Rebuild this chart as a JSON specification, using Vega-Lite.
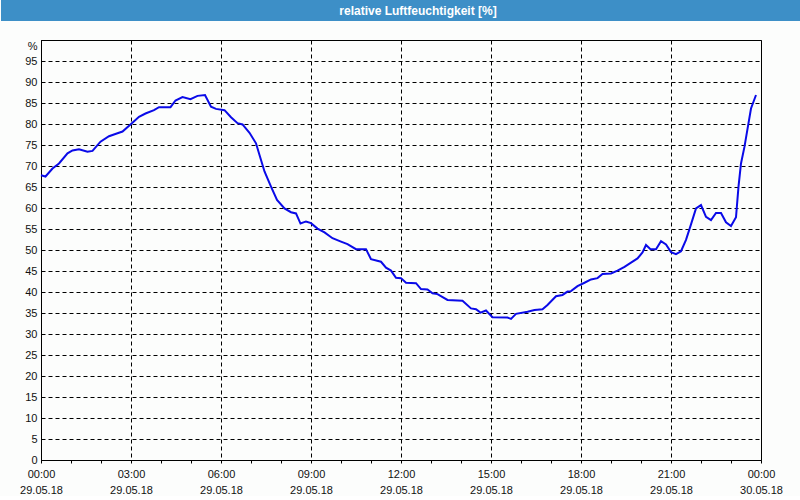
{
  "$schema": "https://vega.github.io/schema/vega-lite/v6.json",
  "padding": 0,
  "background": "#fcfdfc",
  "spacing": 19,
  "bounds": "flush",
  "center": true,
  "config": {
    "font": "Liberation Sans",
    "axis": {"labelFont": "Liberation Sans", "labelFontSize": 11, "labelColor": "#111111", "domainColor": "#000000", "tickColor": "#000000"},
    "style": {"guide-label": {"lineBreak": "\n"}}
  },
  "vconcat": [
    {
      "width": 800,
      "height": 21,
      "view": {"fill": "#3d8fc7", "stroke": null},
      "data": {"values": [{"title": "relative Luftfeuchtigkeit [%]"}]},
      "mark": {"type": "text", "color": "white", "font": "Liberation Sans", "fontWeight": "bold", "fontSize": 12, "dx": 17, "baseline": "middle"},
      "encoding": {"text": {"field": "title", "type": "nominal"}}
    },
    {
      "width": 720,
      "height": 420,
      "view": {"stroke": "#000000", "strokeWidth": 1},
      "data": {"values": [
        {"time": "2018-05-29T00:00:00Z", "rh": 67.8},
        {"time": "2018-05-29T00:09:00Z", "rh": 67.5},
        {"time": "2018-05-29T00:23:00Z", "rh": 69.4},
        {"time": "2018-05-29T00:36:00Z", "rh": 70.6},
        {"time": "2018-05-29T00:53:00Z", "rh": 73.0},
        {"time": "2018-05-29T01:03:00Z", "rh": 73.7},
        {"time": "2018-05-29T01:16:00Z", "rh": 74.0},
        {"time": "2018-05-29T01:33:00Z", "rh": 73.4},
        {"time": "2018-05-29T01:43:00Z", "rh": 73.6},
        {"time": "2018-05-29T01:59:00Z", "rh": 75.8},
        {"time": "2018-05-29T02:16:00Z", "rh": 77.1},
        {"time": "2018-05-29T02:33:00Z", "rh": 77.8},
        {"time": "2018-05-29T02:43:00Z", "rh": 78.2},
        {"time": "2018-05-29T02:59:00Z", "rh": 79.9},
        {"time": "2018-05-29T03:16:00Z", "rh": 81.7},
        {"time": "2018-05-29T03:29:00Z", "rh": 82.5},
        {"time": "2018-05-29T03:46:00Z", "rh": 83.3},
        {"time": "2018-05-29T03:56:00Z", "rh": 84.0},
        {"time": "2018-05-29T04:19:00Z", "rh": 84.0},
        {"time": "2018-05-29T04:29:00Z", "rh": 85.6},
        {"time": "2018-05-29T04:43:00Z", "rh": 86.4},
        {"time": "2018-05-29T04:59:00Z", "rh": 85.9},
        {"time": "2018-05-29T05:13:00Z", "rh": 86.7},
        {"time": "2018-05-29T05:28:00Z", "rh": 86.9},
        {"time": "2018-05-29T05:40:00Z", "rh": 84.1},
        {"time": "2018-05-29T05:50:00Z", "rh": 83.6},
        {"time": "2018-05-29T06:07:00Z", "rh": 83.3},
        {"time": "2018-05-29T06:20:00Z", "rh": 81.6},
        {"time": "2018-05-29T06:33:00Z", "rh": 80.2},
        {"time": "2018-05-29T06:43:00Z", "rh": 79.9},
        {"time": "2018-05-29T06:57:00Z", "rh": 77.9},
        {"time": "2018-05-29T07:10:00Z", "rh": 75.4},
        {"time": "2018-05-29T07:17:00Z", "rh": 72.6},
        {"time": "2018-05-29T07:27:00Z", "rh": 68.7},
        {"time": "2018-05-29T07:40:00Z", "rh": 65.1},
        {"time": "2018-05-29T07:52:00Z", "rh": 61.9},
        {"time": "2018-05-29T08:07:00Z", "rh": 59.9},
        {"time": "2018-05-29T08:20:00Z", "rh": 59.0},
        {"time": "2018-05-29T08:30:00Z", "rh": 58.7},
        {"time": "2018-05-29T08:39:00Z", "rh": 56.3},
        {"time": "2018-05-29T08:50:00Z", "rh": 56.8},
        {"time": "2018-05-29T09:00:00Z", "rh": 56.4},
        {"time": "2018-05-29T09:13:00Z", "rh": 55.1},
        {"time": "2018-05-29T09:27:00Z", "rh": 54.2},
        {"time": "2018-05-29T09:43:00Z", "rh": 52.8},
        {"time": "2018-05-29T10:00:00Z", "rh": 52.0},
        {"time": "2018-05-29T10:13:00Z", "rh": 51.4},
        {"time": "2018-05-29T10:30:00Z", "rh": 50.2},
        {"time": "2018-05-29T10:50:00Z", "rh": 50.2},
        {"time": "2018-05-29T11:00:00Z", "rh": 47.8},
        {"time": "2018-05-29T11:20:00Z", "rh": 47.2},
        {"time": "2018-05-29T11:30:00Z", "rh": 45.8},
        {"time": "2018-05-29T11:40:00Z", "rh": 45.1},
        {"time": "2018-05-29T11:50:00Z", "rh": 43.4},
        {"time": "2018-05-29T12:00:00Z", "rh": 43.3},
        {"time": "2018-05-29T12:10:00Z", "rh": 42.2},
        {"time": "2018-05-29T12:30:00Z", "rh": 42.1},
        {"time": "2018-05-29T12:40:00Z", "rh": 40.7},
        {"time": "2018-05-29T12:53:00Z", "rh": 40.6},
        {"time": "2018-05-29T13:03:00Z", "rh": 39.7},
        {"time": "2018-05-29T13:13:00Z", "rh": 39.5},
        {"time": "2018-05-29T13:33:00Z", "rh": 38.1},
        {"time": "2018-05-29T14:03:00Z", "rh": 37.9},
        {"time": "2018-05-29T14:20:00Z", "rh": 36.1},
        {"time": "2018-05-29T14:30:00Z", "rh": 35.9},
        {"time": "2018-05-29T14:39:00Z", "rh": 35.1},
        {"time": "2018-05-29T14:50:00Z", "rh": 35.6},
        {"time": "2018-05-29T15:03:00Z", "rh": 34.0},
        {"time": "2018-05-29T15:33:00Z", "rh": 33.9},
        {"time": "2018-05-29T15:40:00Z", "rh": 33.6},
        {"time": "2018-05-29T15:50:00Z", "rh": 34.8},
        {"time": "2018-05-29T16:13:00Z", "rh": 35.3},
        {"time": "2018-05-29T16:27:00Z", "rh": 35.7},
        {"time": "2018-05-29T16:43:00Z", "rh": 35.9},
        {"time": "2018-05-29T16:53:00Z", "rh": 36.9},
        {"time": "2018-05-29T17:10:00Z", "rh": 39.0},
        {"time": "2018-05-29T17:23:00Z", "rh": 39.3},
        {"time": "2018-05-29T17:33:00Z", "rh": 40.1},
        {"time": "2018-05-29T17:40:00Z", "rh": 40.2},
        {"time": "2018-05-29T17:53:00Z", "rh": 41.4},
        {"time": "2018-05-29T18:07:00Z", "rh": 42.2},
        {"time": "2018-05-29T18:20:00Z", "rh": 43.0},
        {"time": "2018-05-29T18:33:00Z", "rh": 43.3},
        {"time": "2018-05-29T18:43:00Z", "rh": 44.3},
        {"time": "2018-05-29T19:00:00Z", "rh": 44.4},
        {"time": "2018-05-29T19:13:00Z", "rh": 45.1},
        {"time": "2018-05-29T19:27:00Z", "rh": 46.0},
        {"time": "2018-05-29T19:40:00Z", "rh": 47.0},
        {"time": "2018-05-29T19:53:00Z", "rh": 48.0},
        {"time": "2018-05-29T20:03:00Z", "rh": 49.4},
        {"time": "2018-05-29T20:10:00Z", "rh": 51.2},
        {"time": "2018-05-29T20:19:00Z", "rh": 50.2},
        {"time": "2018-05-29T20:30:00Z", "rh": 50.2},
        {"time": "2018-05-29T20:40:00Z", "rh": 52.1},
        {"time": "2018-05-29T20:50:00Z", "rh": 51.3},
        {"time": "2018-05-29T21:00:00Z", "rh": 49.5},
        {"time": "2018-05-29T21:10:00Z", "rh": 49.0},
        {"time": "2018-05-29T21:20:00Z", "rh": 49.7},
        {"time": "2018-05-29T21:30:00Z", "rh": 52.4},
        {"time": "2018-05-29T21:40:00Z", "rh": 56.1},
        {"time": "2018-05-29T21:50:00Z", "rh": 59.9},
        {"time": "2018-05-29T22:00:00Z", "rh": 60.7},
        {"time": "2018-05-29T22:10:00Z", "rh": 57.9},
        {"time": "2018-05-29T22:20:00Z", "rh": 57.1},
        {"time": "2018-05-29T22:30:00Z", "rh": 58.8},
        {"time": "2018-05-29T22:40:00Z", "rh": 58.8},
        {"time": "2018-05-29T22:50:00Z", "rh": 56.6},
        {"time": "2018-05-29T23:00:00Z", "rh": 55.7},
        {"time": "2018-05-29T23:10:00Z", "rh": 57.8},
        {"time": "2018-05-29T23:15:00Z", "rh": 65.1},
        {"time": "2018-05-29T23:20:00Z", "rh": 70.6},
        {"time": "2018-05-29T23:27:00Z", "rh": 74.6},
        {"time": "2018-05-29T23:35:00Z", "rh": 80.2},
        {"time": "2018-05-29T23:40:00Z", "rh": 83.7},
        {"time": "2018-05-29T23:50:00Z", "rh": 86.9}
      ]},
      "mark": {"type": "line", "color": "#0a0ae8", "strokeWidth": 2},
      "encoding": {
        "x": {
          "field": "time", "type": "temporal",
          "scale": {"type": "utc", "domain": [{"year": 2018, "month": 5, "date": 29, "hours": 0, "utc": true}, {"year": 2018, "month": 5, "date": 30, "hours": 0, "utc": true}], "nice": false},
          "axis": {
            "title": null,
            "values": [
              {"year": 2018, "month": 5, "date": 29, "hours": 0, "utc": true},
              {"year": 2018, "month": 5, "date": 29, "hours": 1, "utc": true},
              {"year": 2018, "month": 5, "date": 29, "hours": 2, "utc": true},
              {"year": 2018, "month": 5, "date": 29, "hours": 3, "utc": true},
              {"year": 2018, "month": 5, "date": 29, "hours": 4, "utc": true},
              {"year": 2018, "month": 5, "date": 29, "hours": 5, "utc": true},
              {"year": 2018, "month": 5, "date": 29, "hours": 6, "utc": true},
              {"year": 2018, "month": 5, "date": 29, "hours": 7, "utc": true},
              {"year": 2018, "month": 5, "date": 29, "hours": 8, "utc": true},
              {"year": 2018, "month": 5, "date": 29, "hours": 9, "utc": true},
              {"year": 2018, "month": 5, "date": 29, "hours": 10, "utc": true},
              {"year": 2018, "month": 5, "date": 29, "hours": 11, "utc": true},
              {"year": 2018, "month": 5, "date": 29, "hours": 12, "utc": true},
              {"year": 2018, "month": 5, "date": 29, "hours": 13, "utc": true},
              {"year": 2018, "month": 5, "date": 29, "hours": 14, "utc": true},
              {"year": 2018, "month": 5, "date": 29, "hours": 15, "utc": true},
              {"year": 2018, "month": 5, "date": 29, "hours": 16, "utc": true},
              {"year": 2018, "month": 5, "date": 29, "hours": 17, "utc": true},
              {"year": 2018, "month": 5, "date": 29, "hours": 18, "utc": true},
              {"year": 2018, "month": 5, "date": 29, "hours": 19, "utc": true},
              {"year": 2018, "month": 5, "date": 29, "hours": 20, "utc": true},
              {"year": 2018, "month": 5, "date": 29, "hours": 21, "utc": true},
              {"year": 2018, "month": 5, "date": 29, "hours": 22, "utc": true},
              {"year": 2018, "month": 5, "date": 29, "hours": 23, "utc": true},
              {"year": 2018, "month": 5, "date": 30, "hours": 0, "utc": true}
            ],
            "tickSize": 3,
            "labelPadding": 5,
            "labelFlush": false,
            "labelOverlap": false,
            "labelLineHeight": 16,
            "labelExpr": "utchours(datum.value) % 3 == 0 ? utcFormat(datum.value, '%H:%M') + '\\n' + utcFormat(datum.value, '%d.%m.%y') : ''",
            "grid": true,
            "gridColor": "#000000",
            "gridDash": [4, 3],
            "gridOpacity": {"condition": {"test": "utchours(datum.value) % 3 == 0", "value": 1}, "value": 0}
          }
        },
        "y": {
          "field": "rh", "type": "quantitative",
          "scale": {"domain": [0, 100], "nice": false},
          "axis": {
            "title": null,
            "values": [0, 5, 10, 15, 20, 25, 30, 35, 40, 45, 50, 55, 60, 65, 70, 75, 80, 85, 90, 95, 100],
            "ticks": false,
            "labelPadding": 4,
            "minExtent": 40,
            "maxExtent": 40,
            "labelExpr": "datum.value == 100 ? '%' : datum.label",
            "labelBaseline": {"condition": {"test": "datum.value == 100", "value": "top"}, "value": "middle"},
            "grid": true,
            "gridColor": "#000000",
            "gridOpacity": 1,
            "gridDash": [4, 3]
          }
        }
      }
    }
  ]
}
